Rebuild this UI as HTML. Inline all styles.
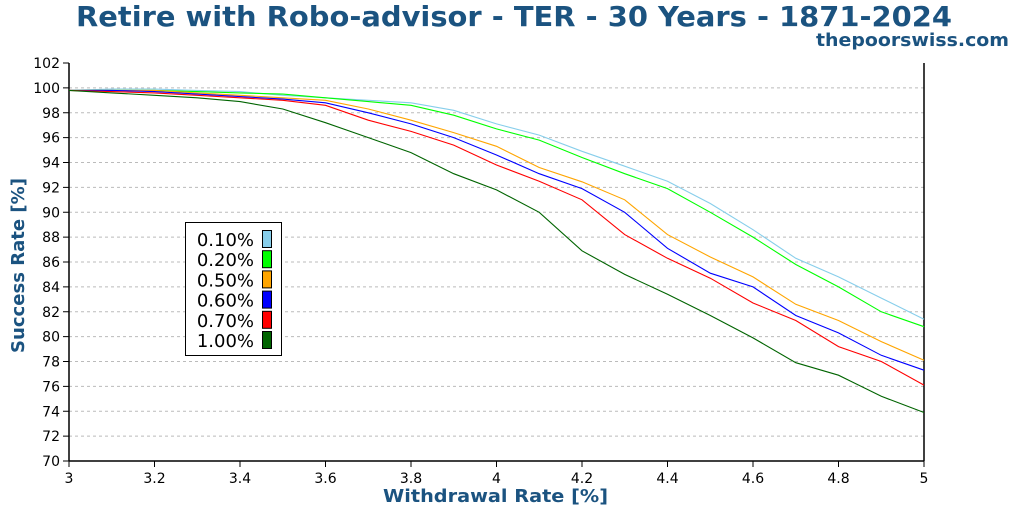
<!DOCTYPE html>
<html><head><meta charset="utf-8"><style>
body{margin:0;background:#fff;width:1024px;height:512px;overflow:hidden}
svg text{font-family:"DejaVu Sans","Liberation Sans",sans-serif}
</style></head><body>
<svg id="chart" width="1024" height="512" xmlns="http://www.w3.org/2000/svg">
<text x="514" y="26" text-anchor="middle" font-size="28" font-weight="bold" fill="#1b5380" textLength="876" lengthAdjust="spacingAndGlyphs">Retire with Robo-advisor - TER - 30 Years - 1871-2024</text>
<text x="1009" y="46" text-anchor="end" font-size="18" font-weight="bold" fill="#1b5380" textLength="193" lengthAdjust="spacingAndGlyphs">thepoorswiss.com</text>
<g id="grid"></g><g id="axes"></g><g id="lines"></g>
<text x="383" y="502" font-size="18" font-weight="bold" fill="#1b5380" textLength="225" lengthAdjust="spacingAndGlyphs">Withdrawal Rate [%]</text>
<text transform="translate(24,353) rotate(-90)" font-size="18" font-weight="bold" fill="#1b5380" textLength="175" lengthAdjust="spacingAndGlyphs">Success Rate [%]</text>
<g id="legend"></g>
</svg>
<script>
const xs=[3.0,3.1,3.2,3.3,3.4,3.5,3.6,3.7,3.8,3.9,4.0,4.1,4.2,4.3,4.4,4.5,4.6,4.7,4.8,4.9,5.0];
const seriesNames=["0.10%","0.20%","0.50%","0.60%","0.70%","1.00%"];
const seriesColors=["#87ceeb","#00ff00","#ffa500","#0000ff","#ff0000","#006400"];
const s010=[99.8,99.9,99.9,99.8,99.7,99.4,99.2,99.0,98.8,98.2,97.1,96.2,94.9,93.7,92.5,90.7,88.6,86.3,84.8,83.1,81.4];
const s020=[99.8,99.8,99.8,99.7,99.6,99.5,99.2,98.9,98.6,97.8,96.7,95.8,94.4,93.1,91.9,90.0,88.0,85.8,84.0,82.0,80.8];
const s050=[99.8,99.8,99.8,99.6,99.4,99.2,99.0,98.3,97.4,96.4,95.3,93.6,92.45,91.0,88.2,86.4,84.8,82.6,81.3,79.6,78.1];
const s060=[99.8,99.8,99.7,99.5,99.3,99.1,98.8,98.0,97.1,96.0,94.6,93.1,91.9,90.0,87.1,85.1,84.0,81.7,80.3,78.5,77.3];
const s070=[99.8,99.7,99.6,99.4,99.2,99.0,98.6,97.4,96.5,95.4,93.8,92.5,91.0,88.2,86.3,84.7,82.7,81.3,79.2,78.0,76.1];
const s100=[99.8,99.6,99.4,99.2,98.9,98.3,97.2,96.0,94.8,93.1,91.8,90.0,86.9,85.0,83.4,81.7,79.9,77.9,76.9,75.2,73.9];
const allSeries=[s010,s020,s050,s060,s070,s100];
const xTicks=[3,3.2,3.4,3.6,3.8,4,4.2,4.4,4.6,4.8,5];
const xTickLabels=["3","3.2","3.4","3.6","3.8","4","4.2","4.4","4.6","4.8","5"];
const yTicks=[70,72,74,76,78,80,82,84,86,88,90,92,94,96,98,100,102];

const NS="http://www.w3.org/2000/svg";
const L=69,R=924,T=63,B=461;
const X=v=>L+(v-3)/(5-3)*(R-L);
const Y=v=>B-(v-70)/(102-70)*(B-T);
function mk(tag,attrs,parent,txt){const e=document.createElementNS(NS,tag);for(const k in attrs)e.setAttribute(k,attrs[k]);if(txt!=null)e.textContent=txt;parent.appendChild(e);return e;}
const grid=document.getElementById('grid'),axes=document.getElementById('axes'),lines=document.getElementById('lines'),leg=document.getElementById('legend');
yTicks.forEach(t=>{
  if(t>70&&t<102){const g=mk('line',{x1:L,x2:R,y1:Y(t),y2:Y(t),stroke:'#bbb','stroke-dasharray':'3,3','stroke-width':1},grid);
  
  }
  const tk=mk('line',{x1:L-6,x2:L,y1:Y(t),y2:Y(t),stroke:'#000','stroke-width':1},axes);
  
  
  const lb=mk('text',{x:L-9,y:Y(t)+5,'text-anchor':'end','font-size':14,fill:'#000'},axes,String(t));
  
  
});
xTicks.forEach((t,i)=>{
  const tk=mk('line',{x1:X(t),x2:X(t),y1:B,y2:B+6,stroke:'#000','stroke-width':1},axes);
  
  
  const lb=mk('text',{x:X(t),y:B+22,'text-anchor':'middle','font-size':14,fill:'#000'},axes,xTickLabels[i]);
  
  
});
const ya=mk('line',{x1:L,x2:L,y1:T,y2:B,stroke:'#000','stroke-width':1.5},axes);


const xa=mk('line',{x1:L,x2:R,y1:B,y2:B,stroke:'#000','stroke-width':1.5},axes);


const ra=mk('line',{x1:R,x2:R,y1:T,y2:B,stroke:'#000','stroke-width':1.5},axes);


allSeries.forEach((s,i)=>{
  const p=mk('polyline',{points:s.map((v,j)=>X(xs[j]).toFixed(1)+','+Y(v).toFixed(1)).join(' '),fill:'none',stroke:seriesColors[i],'stroke-width':1.1},lines);
  
  
});
const box=mk('rect',{x:185.5,y:222.5,width:96,height:133,fill:'#fff',stroke:'#000','stroke-width':1},leg);


seriesNames.forEach((n,i)=>{
  const cy=239+i*20.2;
  const t=mk('text',{x:254,y:cy+7,'text-anchor':'end','font-size':18,fill:'#000'},leg,n);
  
  
  const r=mk('rect',{x:262.5,y:cy-8.5,width:9,height:17,fill:seriesColors[i],stroke:'#000','stroke-width':1},leg);
  
  
});
</script>
</body></html>
